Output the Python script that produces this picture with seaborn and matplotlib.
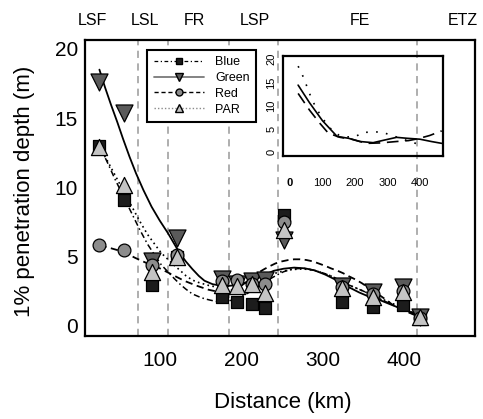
import matplotlib
matplotlib.use("Agg")
import matplotlib.pyplot as plt
from matplotlib.lines import Line2D
import seaborn as sns
import numpy as np
import pandas as pd

# ---------------- data ----------------
station_km = [26, 56, 90, 121, 176, 195, 213, 229, 252, 324, 362, 399, 420]
blue_vals = [13.0, 9.1, 2.95, 5.0, 2.1, 1.7, 1.55, 1.3, 8.0, 1.73, 1.37, 1.5, 0.5]
green_vals = [17.6, 15.4, 4.7, 6.35, 3.4, 3.0, 3.2, 3.3, 6.2, 2.9, 2.45, 2.8, 0.6]
red_vals = [5.8, 5.5, 4.4, 5.1, 3.2, 3.3, 3.0, 3.0, 7.5, 2.8, 2.3, 2.5, 0.55]
par_vals = [12.9, 10.2, 3.86, 4.94, 2.95, 2.9, 3.05, 2.4, 6.9, 2.7, 2.1, 2.46, 0.6]

# fitted curves
green_fit_x = [26, 33, 40, 48, 55, 63, 71, 80, 90, 100, 110, 117, 124, 132, 140, 148, 155, 165, 175, 185, 195, 205, 215, 228, 240, 252, 265, 278, 290, 303, 315, 325, 335, 345, 355, 370, 385, 400, 410, 420]
green_fit_y = [18.5, 17.2, 16.0, 14.7, 13.5, 12.2, 11.0, 9.8, 8.6, 7.6, 6.7, 6.0, 5.3, 4.65, 4.1, 3.6, 3.25, 3.0, 2.9, 2.88, 2.95, 3.1, 3.3, 3.65, 3.97, 4.12, 4.2, 4.15, 4.0, 3.7, 3.35, 3.0, 2.7, 2.4, 2.15, 1.86, 1.5, 1.15, 0.95, 0.77]
blue_fit_x = [26, 30, 35, 40, 45, 50, 55, 60, 65, 70, 75, 80, 85, 90, 95, 102, 110, 118, 125, 132, 140, 148, 155, 162, 170, 178, 185, 192, 200, 208, 215, 222, 230, 238, 245, 252, 260, 268, 275, 282, 290, 300, 310, 320, 330, 340, 350, 360, 370, 380, 390, 400, 410, 420]
blue_fit_y = [13.0, 12.5, 11.9, 11.25, 10.6, 10.0, 9.4, 8.8, 8.2, 7.6, 7.0, 6.45, 5.9, 5.45, 5.0, 4.4, 3.9, 3.4, 3.0, 2.65, 2.3, 2.1, 1.95, 1.85, 1.75, 1.74, 1.8, 1.92, 2.1, 2.35, 2.6, 2.9, 3.2, 3.47, 3.7, 3.9, 4.05, 4.12, 4.15, 4.1, 4.0, 3.82, 3.6, 3.32, 3.0, 2.75, 2.5, 2.22, 1.95, 1.67, 1.4, 1.12, 0.88, 0.65]
red_fit_x = [26, 40, 55, 70, 85, 100, 115, 130, 145, 160, 168, 175, 182, 190, 198, 205, 212, 220, 228, 235, 242, 250, 258, 265, 272, 280, 288, 295, 303, 310, 318, 325, 332, 340, 348, 355, 362, 370, 378, 385, 392, 400, 410, 420]
red_fit_y = [5.8, 5.6, 5.35, 4.9, 4.5, 4.15, 3.7, 3.25, 2.9, 2.6, 2.5, 2.45, 2.48, 2.6, 2.8, 3.1, 3.42, 3.8, 4.08, 4.3, 4.5, 4.65, 4.75, 4.8, 4.8, 4.75, 4.65, 4.5, 4.33, 4.15, 3.98, 3.8, 3.58, 3.35, 3.08, 2.8, 2.5, 2.2, 1.87, 1.55, 1.32, 1.1, 0.85, 0.6]
par_fit_x = [26, 30, 35, 40, 45, 50, 55, 60, 65, 70, 75, 80, 85, 90, 95, 102, 110, 118, 125, 132, 140, 148, 155, 162, 170, 178, 185, 192, 200, 208, 215, 222, 230, 238, 245, 252, 260, 268, 275, 282, 290, 300, 310, 320, 330, 340, 350, 360, 370, 380, 390, 400, 410, 420]
par_fit_y = [12.9, 12.5, 12.0, 11.45, 10.9, 10.35, 9.8, 9.25, 8.7, 8.15, 7.6, 7.1, 6.6, 6.2, 5.8, 5.25, 4.8, 4.35, 4.0, 3.62, 3.3, 3.12, 3.0, 2.88, 2.8, 2.8, 2.85, 2.92, 3.0, 3.15, 3.3, 3.45, 3.6, 3.73, 3.85, 3.95, 4.05, 4.08, 4.1, 4.07, 4.0, 3.82, 3.6, 3.32, 3.0, 2.75, 2.5, 2.25, 2.0, 1.75, 1.5, 1.25, 0.98, 0.7]

# inset curves
inset_solid_x = [25, 60, 100, 125, 145, 180, 215, 256, 290, 328, 360, 400, 435, 467]
inset_solid_y = [14.4, 10.6, 6.7, 4.8, 3.3, 2.9, 2.2, 1.95, 2.5, 3.1, 2.9, 2.7, 2.2, 1.8]
inset_dash_x = [25, 60, 90, 118, 154, 190, 236, 280, 328, 365, 394, 430, 467]
inset_dash_y = [12.6, 9.0, 6.3, 4.0, 3.1, 2.7, 1.8, 1.9, 2.2, 2.4, 2.8, 3.5, 4.5]
inset_dot_x = [25, 36, 46, 56, 65, 80, 100, 125, 150, 175, 200, 225, 252, 277, 302, 335, 369, 400]
inset_dot_y = [18.5, 17.0, 15.2, 13.4, 11.7, 9.5, 7.2, 5.0, 3.6, 3.2, 3.2, 4.2, 4.2, 4.3, 3.8, 3.0, 2.2, 1.5]

zone_bounds = [73, 110, 185, 245, 416]
zone_labels = ["LSF", "LSL", "FR", "LSP", "FE", "ETZ"]
zone_label_x = [18, 82, 143, 217, 346, 472]

x_ticks = [100, 200, 300, 400]
y_ticks = [0, 5, 10, 15, 20]
inset_x_ticks = [0, 100, 200, 300, 400]

series_names = ["Blue", "Green", "Red", "PAR"]

# ---------------- style ----------------
sns.set_style("white")
plt.rcParams["font.family"] = ["Liberation Sans", "DejaVu Sans"]
plt.rcParams["text.color"] = "black"
plt.rcParams["axes.labelcolor"] = "black"
plt.rcParams["xtick.color"] = "black"
plt.rcParams["ytick.color"] = "black"

fig = plt.figure(figsize=(4.83, 4.19), dpi=100)
ax = fig.add_axes([85 / 483, 1 - 336 / 419, 390 / 483, 296 / 419])

for b in zone_bounds:
    ax.axvline(b, color="#a8a8a8", ls=(0, (4, 3)), lw=1.3, zorder=0)

# curves
sns.lineplot(x=blue_fit_x, y=blue_fit_y, ax=ax, color="black", lw=1.1,
             linestyle=(0, (4, 2, 1, 2)), zorder=2)
sns.lineplot(x=green_fit_x, y=green_fit_y, ax=ax, color="black", lw=1.3,
             linestyle="-", zorder=2)
sns.lineplot(x=red_fit_x, y=red_fit_y, ax=ax, color="black", lw=1.3,
             linestyle=(0, (4, 2.5)), zorder=2)
sns.lineplot(x=par_fit_x, y=par_fit_y, ax=ax, color="black", lw=1.2,
             linestyle=(0, (1, 2)), zorder=2)

# markers
marker_specs = [
    (blue_vals, "s", 80, "#1c1c1c"),
    (green_vals, "v", 150, "#5a5a5a"),
    (red_vals, "o", 85, "#8c8c8c"),
    (par_vals, "^", 135, "#c4c4c4"),
]
for i, (vals, mk, s, col) in enumerate(marker_specs):
    sns.scatterplot(x=station_km, y=vals, ax=ax, marker=mk, s=s, color=col,
                    edgecolor="black", linewidth=0.9, zorder=3 + i)

ax.set_xlim(8.3, 487)
ax.set_ylim(-0.74, 20.64)
ax.set_xticks(x_ticks)
ax.set_yticks(y_ticks)
ax.tick_params(direction="in", length=5, width=1.3, labelsize=15, colors="black")
ax.tick_params(axis="x", pad=11)
ax.tick_params(axis="y", pad=5)
for sp in ax.spines.values():
    sp.set_linewidth(1.6)
    sp.set_color("black")

ax.set_xlabel("Distance (km)", fontsize=16, color="black")
ax.set_ylabel("1% penetration depth (m)", fontsize=16, color="black")
ax.xaxis.set_label_coords(0.508, -0.19)
ax.yaxis.set_label_coords(-0.128, 0.49)

for lab, xp in zip(zone_labels, zone_label_x):
    ax.text(xp, 1.066, lab, transform=ax.get_xaxis_transform(), ha="center",
            va="center", fontsize=11.5, color="black")

# legend
handles = [
    Line2D([], [], color="black", lw=0.9, ls=(0, (3, 2, 1, 2)), marker="s",
           ms=5, mfc="#1c1c1c", mec="black"),
    Line2D([], [], color="#7a7a7a", lw=1.3, ls="-", marker="v",
           ms=5.5, mfc="#5a5a5a", mec="black"),
    Line2D([], [], color="black", lw=1.0, ls=(0, (3, 2)), marker="o",
           ms=5, mfc="#8c8c8c", mec="black"),
    Line2D([], [], color="#8a8a8a", lw=1.0, ls=(0, (1, 1.5)), marker="^",
           ms=5.5, mfc="#c4c4c4", mec="black"),
]
leg = ax.legend(handles, series_names, loc="upper left",
                bbox_to_anchor=(0.16, 0.966), borderaxespad=0, fontsize=9,
                handlelength=4.0, handletextpad=0.9, labelspacing=0.3,
                frameon=True, fancybox=False, framealpha=1, borderpad=0.5)
leg.get_frame().set_edgecolor("black")
leg.get_frame().set_linewidth(1.5)
for t in leg.get_texts():
    t.set_color("black")

# inset
ins = fig.add_axes([283.3 / 483, 1 - 155.7 / 419, 159.4 / 483, 99.7 / 419])
ins.set_facecolor("none")
sns.lineplot(x=inset_solid_x, y=inset_solid_y, ax=ins, color="black", lw=1.2,
             linestyle="-")
sns.lineplot(x=inset_dash_x, y=inset_dash_y, ax=ins, color="black", lw=1.2,
             linestyle=(0, (7, 4)))
sns.lineplot(x=inset_dot_x, y=inset_dot_y, ax=ins, color="black", lw=1.2,
             linestyle=(0, (1, 5)))
ins.set_xlim(-20.6, 470)
ins.set_ylim(-0.87, 20.7)
ins.set_xticks(inset_x_ticks)
ins.set_yticks(y_ticks)
ins.tick_params(direction="in", length=3, width=1.0, labelsize=8, colors="black")
ins.tick_params(axis="x", pad=16)
ins.tick_params(axis="y", pad=5)
for t in ins.get_yticklabels():
    t.set_rotation(90)
    t.set_va("center")
ins.get_xticklabels()[0].set_fontweight("bold")
for sp in ins.spines.values():
    sp.set_linewidth(1.6)
    sp.set_color("black")

fig.savefig("out.png", dpi=100)
